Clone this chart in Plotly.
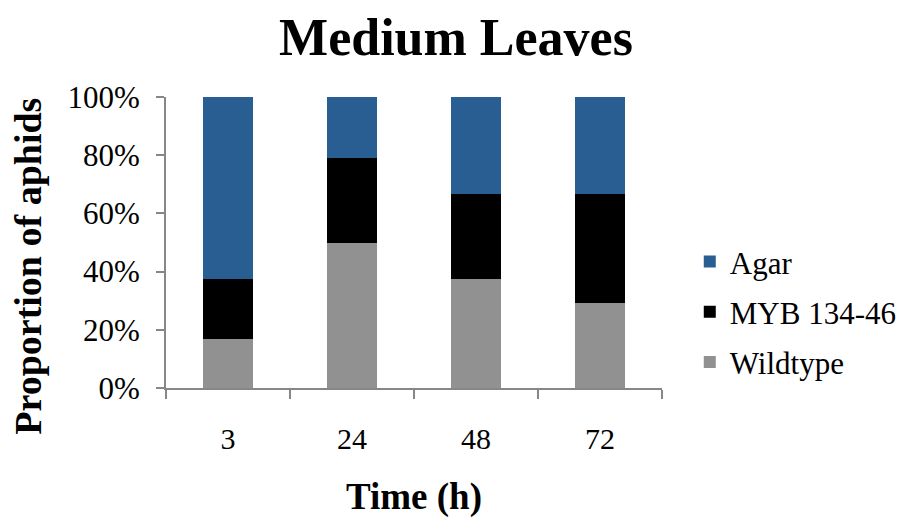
import plotly.graph_objects as go

categories = ["3", "24", "48", "72"]
wildtype = [0.167, 0.500, 0.375, 0.292]
myb = [0.208, 0.292, 0.292, 0.375]
agar = [0.625, 0.208, 0.333, 0.333]

FONT = "Liberation Serif, Times New Roman, serif"
AXIS = "#878787"

fig = go.Figure()
fig.add_trace(go.Bar(x=categories, y=wildtype, name="Wildtype", marker_color="#919191",
                     marker_line_width=0, legendgroup="w", legendrank=3))
fig.add_trace(go.Bar(x=categories, y=myb, name="MYB 134-46", marker_color="#000000",
                     marker_line_width=0, legendgroup="m", legendrank=2))
fig.add_trace(go.Bar(x=categories, y=agar, name="Agar", marker_color="#285E91",
                     marker_line_width=0, legendgroup="a", legendrank=1))

# page body has an 8px margin, so the figure is 8px smaller and margins compensated
fig.update_layout(
    width=896, height=511,
    barmode="stack", bargap=0.6,
    plot_bgcolor="white", paper_bgcolor="white",
    margin=dict(l=158, r=242, t=89, b=131, autoexpand=False),
    font=dict(family=FONT, color="black", size=30),
    title=dict(text="<b>Medium Leaves</b>", x=0.5, xanchor="center", y=0.943, yanchor="middle",
               font=dict(size=52, family=FONT, color="black")),
    legend=dict(x=1.056, xanchor="left", y=0.262, yanchor="middle",
                traceorder="grouped", tracegroupgap=7,
                font=dict(size=31, family=FONT, color="black"), bgcolor="rgba(0,0,0,0)"),
    showlegend=True,
    annotations=[dict(text="<b>Proportion of aphids</b>", textangle=-90,
                      xref="paper", yref="paper", x=-0.278, y=0.417,
                      xanchor="center", yanchor="middle", showarrow=False,
                      font=dict(size=38, family=FONT, color="black"))],
)
fig.update_xaxes(
    automargin=False,
    showline=True, linecolor=AXIS, linewidth=2,
    ticks="outside", tickson="boundaries", ticklen=9, tickcolor=AXIS, tickwidth=2,
    ticklabelstandoff=23,
    tickfont=dict(size=30, family=FONT),
    title=dict(text="<b>Time (h)</b>", font=dict(size=37, family=FONT), standoff=29),
    showgrid=False, zeroline=False,
)
fig.update_yaxes(
    automargin=False,
    range=[0, 1], tickvals=[0, 0.2, 0.4, 0.6, 0.8, 1.0], tickformat=".0%",
    showline=True, linecolor=AXIS, linewidth=2,
    ticks="outside", ticklen=8, tickcolor=AXIS, tickwidth=2,
    ticklabelstandoff=10,
    tickfont=dict(size=31, family=FONT),
    showgrid=False, zeroline=False,
)

fig.write_html("out.html")
